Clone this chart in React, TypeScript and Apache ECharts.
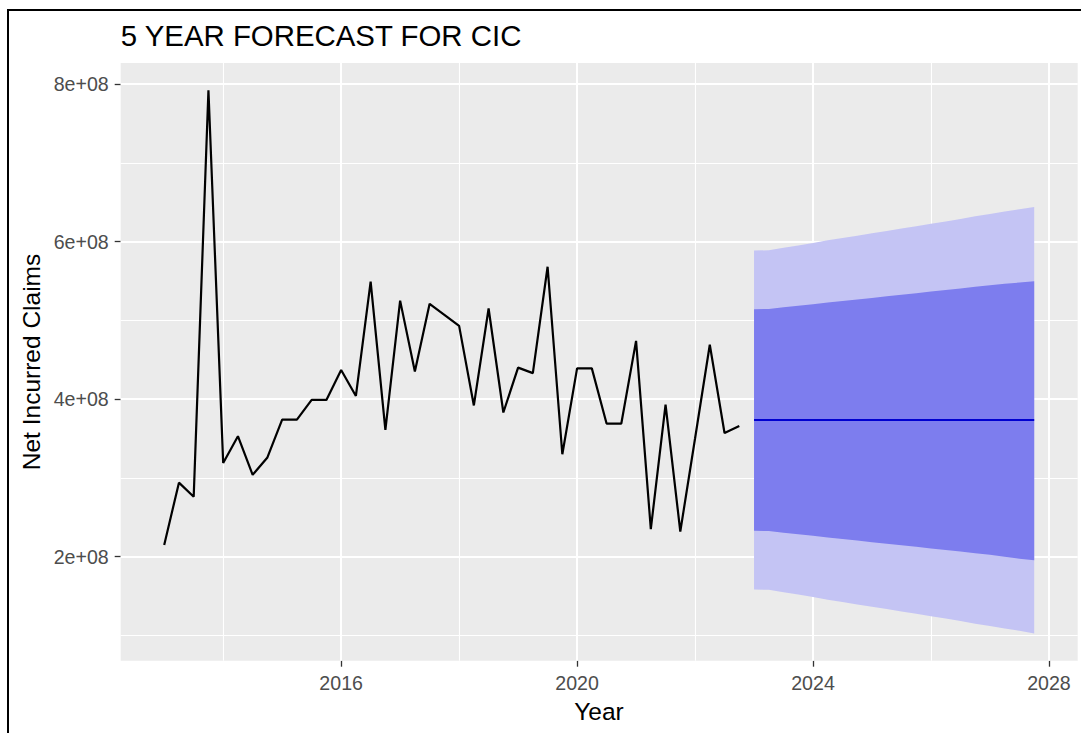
import React, { useEffect, useRef } from "react";
import * as echarts from "echarts";

// ---- data ----
const histTime = [
  2013, 2013.25, 2013.5, 2013.75, 2014, 2014.25, 2014.5, 2014.75,
  2015, 2015.25, 2015.5, 2015.75, 2016, 2016.25, 2016.5, 2016.75,
  2017, 2017.25, 2017.5, 2017.75, 2018, 2018.25, 2018.5, 2018.75,
  2019, 2019.25, 2019.5, 2019.75, 2020, 2020.25, 2020.5, 2020.75,
  2021, 2021.25, 2021.5, 2021.75, 2022, 2022.25, 2022.5, 2022.75,
];
const histClaims = [
  2.15e8, 2.94e8, 2.76e8, 7.92e8, 3.19e8, 3.53e8, 3.04e8, 3.26e8,
  3.74e8, 3.74e8, 3.99e8, 3.99e8, 4.37e8, 4.04e8, 5.49e8, 3.61e8,
  5.25e8, 4.35e8, 5.21e8, 5.07e8, 4.93e8, 3.92e8, 5.15e8, 3.83e8,
  4.40e8, 4.33e8, 5.68e8, 3.30e8, 4.39e8, 4.39e8, 3.69e8, 3.69e8,
  4.74e8, 2.35e8, 3.93e8, 2.32e8, 3.50e8, 4.69e8, 3.57e8, 3.66e8,
];
const fcTime = [
  2023, 2023.25, 2023.5, 2023.75, 2024, 2024.25, 2024.5, 2024.75,
  2025, 2025.25, 2025.5, 2025.75, 2026, 2026.25, 2026.5, 2026.75,
  2027, 2027.25, 2027.5, 2027.75,
];
const fcMean = [
  3.735e8, 3.735e8, 3.735e8, 3.735e8, 3.735e8, 3.735e8, 3.735e8, 3.735e8,
  3.735e8, 3.735e8, 3.735e8, 3.735e8, 3.735e8, 3.735e8, 3.735e8, 3.735e8,
  3.735e8, 3.735e8, 3.735e8, 3.735e8,
];
const fcHi80 = [
  5.14e8, 5.145e8, 5.165e8, 5.185e8, 5.205e8, 5.225e8, 5.245e8, 5.265e8,
  5.285e8, 5.305e8, 5.325e8, 5.345e8, 5.365e8, 5.385e8, 5.405e8, 5.425e8,
  5.445e8, 5.465e8, 5.48e8, 5.495e8,
];
const fcLo80 = [
  2.33e8, 2.325e8, 2.305e8, 2.285e8, 2.265e8, 2.245e8, 2.225e8, 2.205e8,
  2.185e8, 2.165e8, 2.145e8, 2.125e8, 2.105e8, 2.085e8, 2.065e8, 2.045e8,
  2.025e8, 2.0e8, 1.975e8, 1.955e8,
];
const fcHi95 = [
  5.885e8, 5.89e8, 5.92e8, 5.95e8, 5.98e8, 6.015e8, 6.045e8, 6.075e8,
  6.105e8, 6.135e8, 6.165e8, 6.195e8, 6.225e8, 6.255e8, 6.285e8, 6.32e8,
  6.35e8, 6.38e8, 6.41e8, 6.44e8,
];
const fcLo95 = [
  1.585e8, 1.58e8, 1.55e8, 1.52e8, 1.49e8, 1.455e8, 1.425e8, 1.395e8,
  1.365e8, 1.335e8, 1.305e8, 1.275e8, 1.245e8, 1.215e8, 1.185e8, 1.15e8,
  1.12e8, 1.09e8, 1.06e8, 1.025e8,
];
const xTickValues = [2016, 2020, 2024, 2028];
const xTickLabels = ["2016", "2020", "2024", "2028"];
const xMinorValues = [2014, 2018, 2022, 2026];
const yTickValues = [2e8, 4e8, 6e8, 8e8];
const yTickLabels = ["2e+08", "4e+08", "6e+08", "8e+08"];
const yMinorValues = [1e8, 3e8, 5e8, 7e8];

const TITLE = "5 YEAR FORECAST FOR CIC";
const X_TITLE = "Year";
const Y_TITLE = "Net Incurred Claims";

const FONT = "'Liberation Sans', Arial, Helvetica, sans-serif";

export default function App() {
  const ref = useRef<HTMLDivElement>(null);

  useEffect(() => {
    if (!ref.current) return;
    const chart = echarts.init(ref.current, undefined, { renderer: "svg" });

    // ggplot-style 5% expansion of the data range
    const allX = [...histTime, ...fcTime];
    const allY = [...histClaims, ...fcLo95, ...fcHi95];
    const xLo = Math.min(...allX), xHi = Math.max(...allX);
    const yLo = Math.min(...allY), yHi = Math.max(...allY);
    const xPad = (xHi - xLo) * 0.05, yPad = (yHi - yLo) * 0.05;

    const major = { color: "#FFFFFF", width: 2, type: "solid" as const };
    const minor = { color: "#FFFFFF", width: 1.1, type: "solid" as const };

    chart.setOption({
      animation: false,
      grid: {
        left: 120.7,
        right: 3.3,
        top: 63.1,
        bottom: 72.3,
        show: true,
        backgroundColor: "#EBEBEB",
        borderWidth: 0,
      },
      xAxis: {
        type: "value",
        min: xLo - xPad,
        max: xHi + xPad,
        axisLine: { show: false },
        splitLine: { show: false },
        axisTick: {
          show: true,
          customValues: xTickValues,
          length: 6,
          lineStyle: { color: "#333333", width: 1.3 },
        },
        axisLabel: {
          customValues: xTickValues,
          formatter: (v: number) => xTickLabels[xTickValues.indexOf(v)] ?? "",
          color: "#4D4D4D",
          fontSize: 19.6,
          fontFamily: FONT,
          margin: 12,
        },
      },
      yAxis: {
        type: "value",
        min: yLo - yPad,
        max: yHi + yPad,
        axisLine: { show: false },
        splitLine: { show: false },
        axisTick: {
          show: true,
          customValues: yTickValues,
          length: 6,
          lineStyle: { color: "#333333", width: 1.3 },
        },
        axisLabel: {
          customValues: yTickValues,
          formatter: (v: number) => yTickLabels[yTickValues.indexOf(v)] ?? "",
          color: "#4D4D4D",
          fontSize: 19.6,
          fontFamily: FONT,
          margin: 12,
        },
      },
      graphic: [
        {
          type: "line",
          shape: { x1: 8, y1: 9, x2: 8, y2: 733 },
          style: { stroke: "#000", lineWidth: 2 },
        },
        {
          type: "line",
          shape: { x1: 7, y1: 10, x2: 1081, y2: 10 },
          style: { stroke: "#000", lineWidth: 2 },
        },
        {
          type: "text",
          x: 120.7,
          y: 35,
          style: {
            text: TITLE,
            fontSize: 29.4,
            fontFamily: FONT,
            fill: "#000",
            align: "left",
            verticalAlign: "middle",
          },
        },
        {
          type: "text",
          x: 599,
          y: 711,
          style: {
            text: X_TITLE,
            fontSize: 24.5,
            fontFamily: FONT,
            fill: "#000",
            align: "center",
            verticalAlign: "middle",
          },
        },
        {
          type: "text",
          x: 31.5,
          y: 362,
          rotation: Math.PI / 2,
          style: {
            text: Y_TITLE,
            fontSize: 24.5,
            fontFamily: FONT,
            fill: "#000",
            align: "center",
            verticalAlign: "middle",
          },
        },
      ],
      series: [
        {
          type: "line",
          data: [],
          silent: true,
          z: 1,
          markLine: {
            silent: true,
            z: 1,
            symbol: ["none", "none"],
            label: { show: false },
            animation: false,
            data: [
              ...xMinorValues.map((v) => ({ xAxis: v, lineStyle: minor })),
              ...yMinorValues.map((v) => ({ yAxis: v, lineStyle: minor })),
              ...xTickValues.map((v) => ({ xAxis: v, lineStyle: major })),
              ...yTickValues.map((v) => ({ yAxis: v, lineStyle: major })),
            ],
          },
        },
        {
          type: "custom",
          silent: true,
          z: 3,
          data: fcTime.map((t, i) => [t, fcLo95[i], fcLo80[i], fcHi80[i], fcHi95[i]]),
          encode: { x: 0, y: [1, 2, 3, 4] },
          renderItem: (params: any, api: any) => {
            if (params.dataIndex !== 0) return { type: "group", children: [] };
            const hi95 = fcTime.map((t, i) => api.coord([t, fcHi95[i]]));
            const lo95 = fcTime.map((t, i) => api.coord([t, fcLo95[i]])).reverse();
            const hi80 = fcTime.map((t, i) => api.coord([t, fcHi80[i]]));
            const lo80 = fcTime.map((t, i) => api.coord([t, fcLo80[i]])).reverse();
            return {
              type: "group",
              children: [
                { type: "polygon", shape: { points: [...hi95, ...lo95] }, style: { fill: "#C4C4F4" } },
                { type: "polygon", shape: { points: [...hi80, ...lo80] }, style: { fill: "#7D7DEE" } },
              ],
            };
          },
        },
        {
          type: "line",
          data: histTime.map((t, i) => [t, histClaims[i]]),
          showSymbol: false,
          symbol: "none",
          silent: true,
          z: 4,
          lineStyle: { color: "#000000", width: 2.2 },
        },
        {
          type: "line",
          data: fcTime.map((t, i) => [t, fcMean[i]]),
          showSymbol: false,
          symbol: "none",
          silent: true,
          z: 5,
          lineStyle: { color: "#0000D0", width: 2.2 },
        },
      ],
    });

    return () => chart.dispose();
  }, []);

  return (
    <div
      ref={ref}
      style={{ position: "absolute", left: 0, top: 0, width: 1081, height: 733 }}
    />
  );
}
